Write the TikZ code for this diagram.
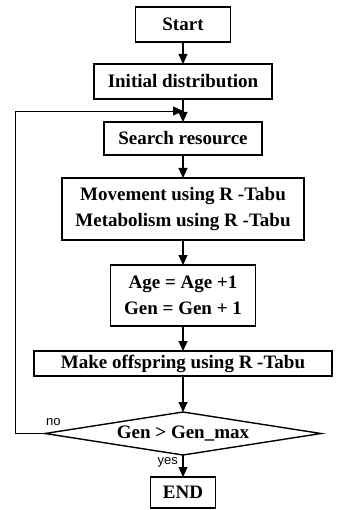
\documentclass[tikz,border=0pt]{standalone}
\usepackage{fontspec}
\setmainfont{Liberation Serif}
\newfontfamily\labelfont{Liberation Sans}
\usetikzlibrary{shapes.geometric,arrows.meta,positioning}
\newcommand\boxfont{\bfseries\fontsize{19}{26}\selectfont}
\tikzstyle{process}=[rectangle,draw=black,line width=1.6pt,inner sep=0pt,outer sep=0pt,font=\boxfont,align=center]
\tikzstyle{decision}=[diamond,draw=black,line width=1.4pt,inner sep=0pt,outer sep=0pt,aspect=6.4,minimum width=276pt,minimum height=43pt,font=\boxfont]
\tikzstyle{flow}=[-{Triangle[length=10pt,width=9pt]},line width=1.1pt]
\tikzstyle{backline}=[-{Triangle[length=10pt,width=9pt]},line width=0.8pt]
\tikzstyle{answer}=[font=\labelfont\fontsize{13}{15}\selectfont,inner sep=0pt]

\begin{document}
\begin{tikzpicture}

    \useasboundingbox (0,0) rectangle (341pt,-510pt);

    % boxes
    \node[process, minimum width=95pt, minimum height=35pt] (start) at (183pt,-24.5pt) {Start};
    \node[process, minimum width=178pt, minimum height=35pt] (init) [below=22pt of start] {Initial distribution};
    \node[process, minimum width=158pt, minimum height=33pt] (search) [below=23pt of init] {Search resource};
    \node[process, minimum width=242pt, minimum height=62pt] (move) [below=23pt of search] {Movement using R -Tabu\\Metabolism using R -Tabu};
    \node[process, minimum width=145pt, minimum height=61pt] (age) [below=25pt of move] {Age = Age +1\\Gen = Gen + 1};
    \node[process, minimum width=298pt, minimum height=25pt] (offspring) [below=25pt of age] {Make offspring using R -Tabu};
    \node[decision] (test) [below=36pt of offspring] {Gen > Gen\_max};
    \node[process, minimum width=65pt, minimum height=31pt] (end) [below=22pt of test] {END};

    % loop points
    \coordinate[above=11pt of search] (merge);
    \coordinate[left=30pt of test.west] (corner);

    % arrows
    \draw [flow] (start) -- (init);
    \draw [flow] (init) -- (search);
    \draw [flow] (search) -- (move);
    \draw [flow] (move) -- (age);
    \draw [flow] (age) -- (offspring);
    \draw [flow] (offspring) -- (test);
    \draw [flow] (test) -- (end);
    \draw [backline] (test.west) -- (corner) |- (merge);

    % answers
    \node[answer, above right=8pt and 1pt of test.west] (no) {no};
    \node[answer, below left=2pt and 5pt of test.south] (yes) {yes};

\end{tikzpicture}
\end{document}
